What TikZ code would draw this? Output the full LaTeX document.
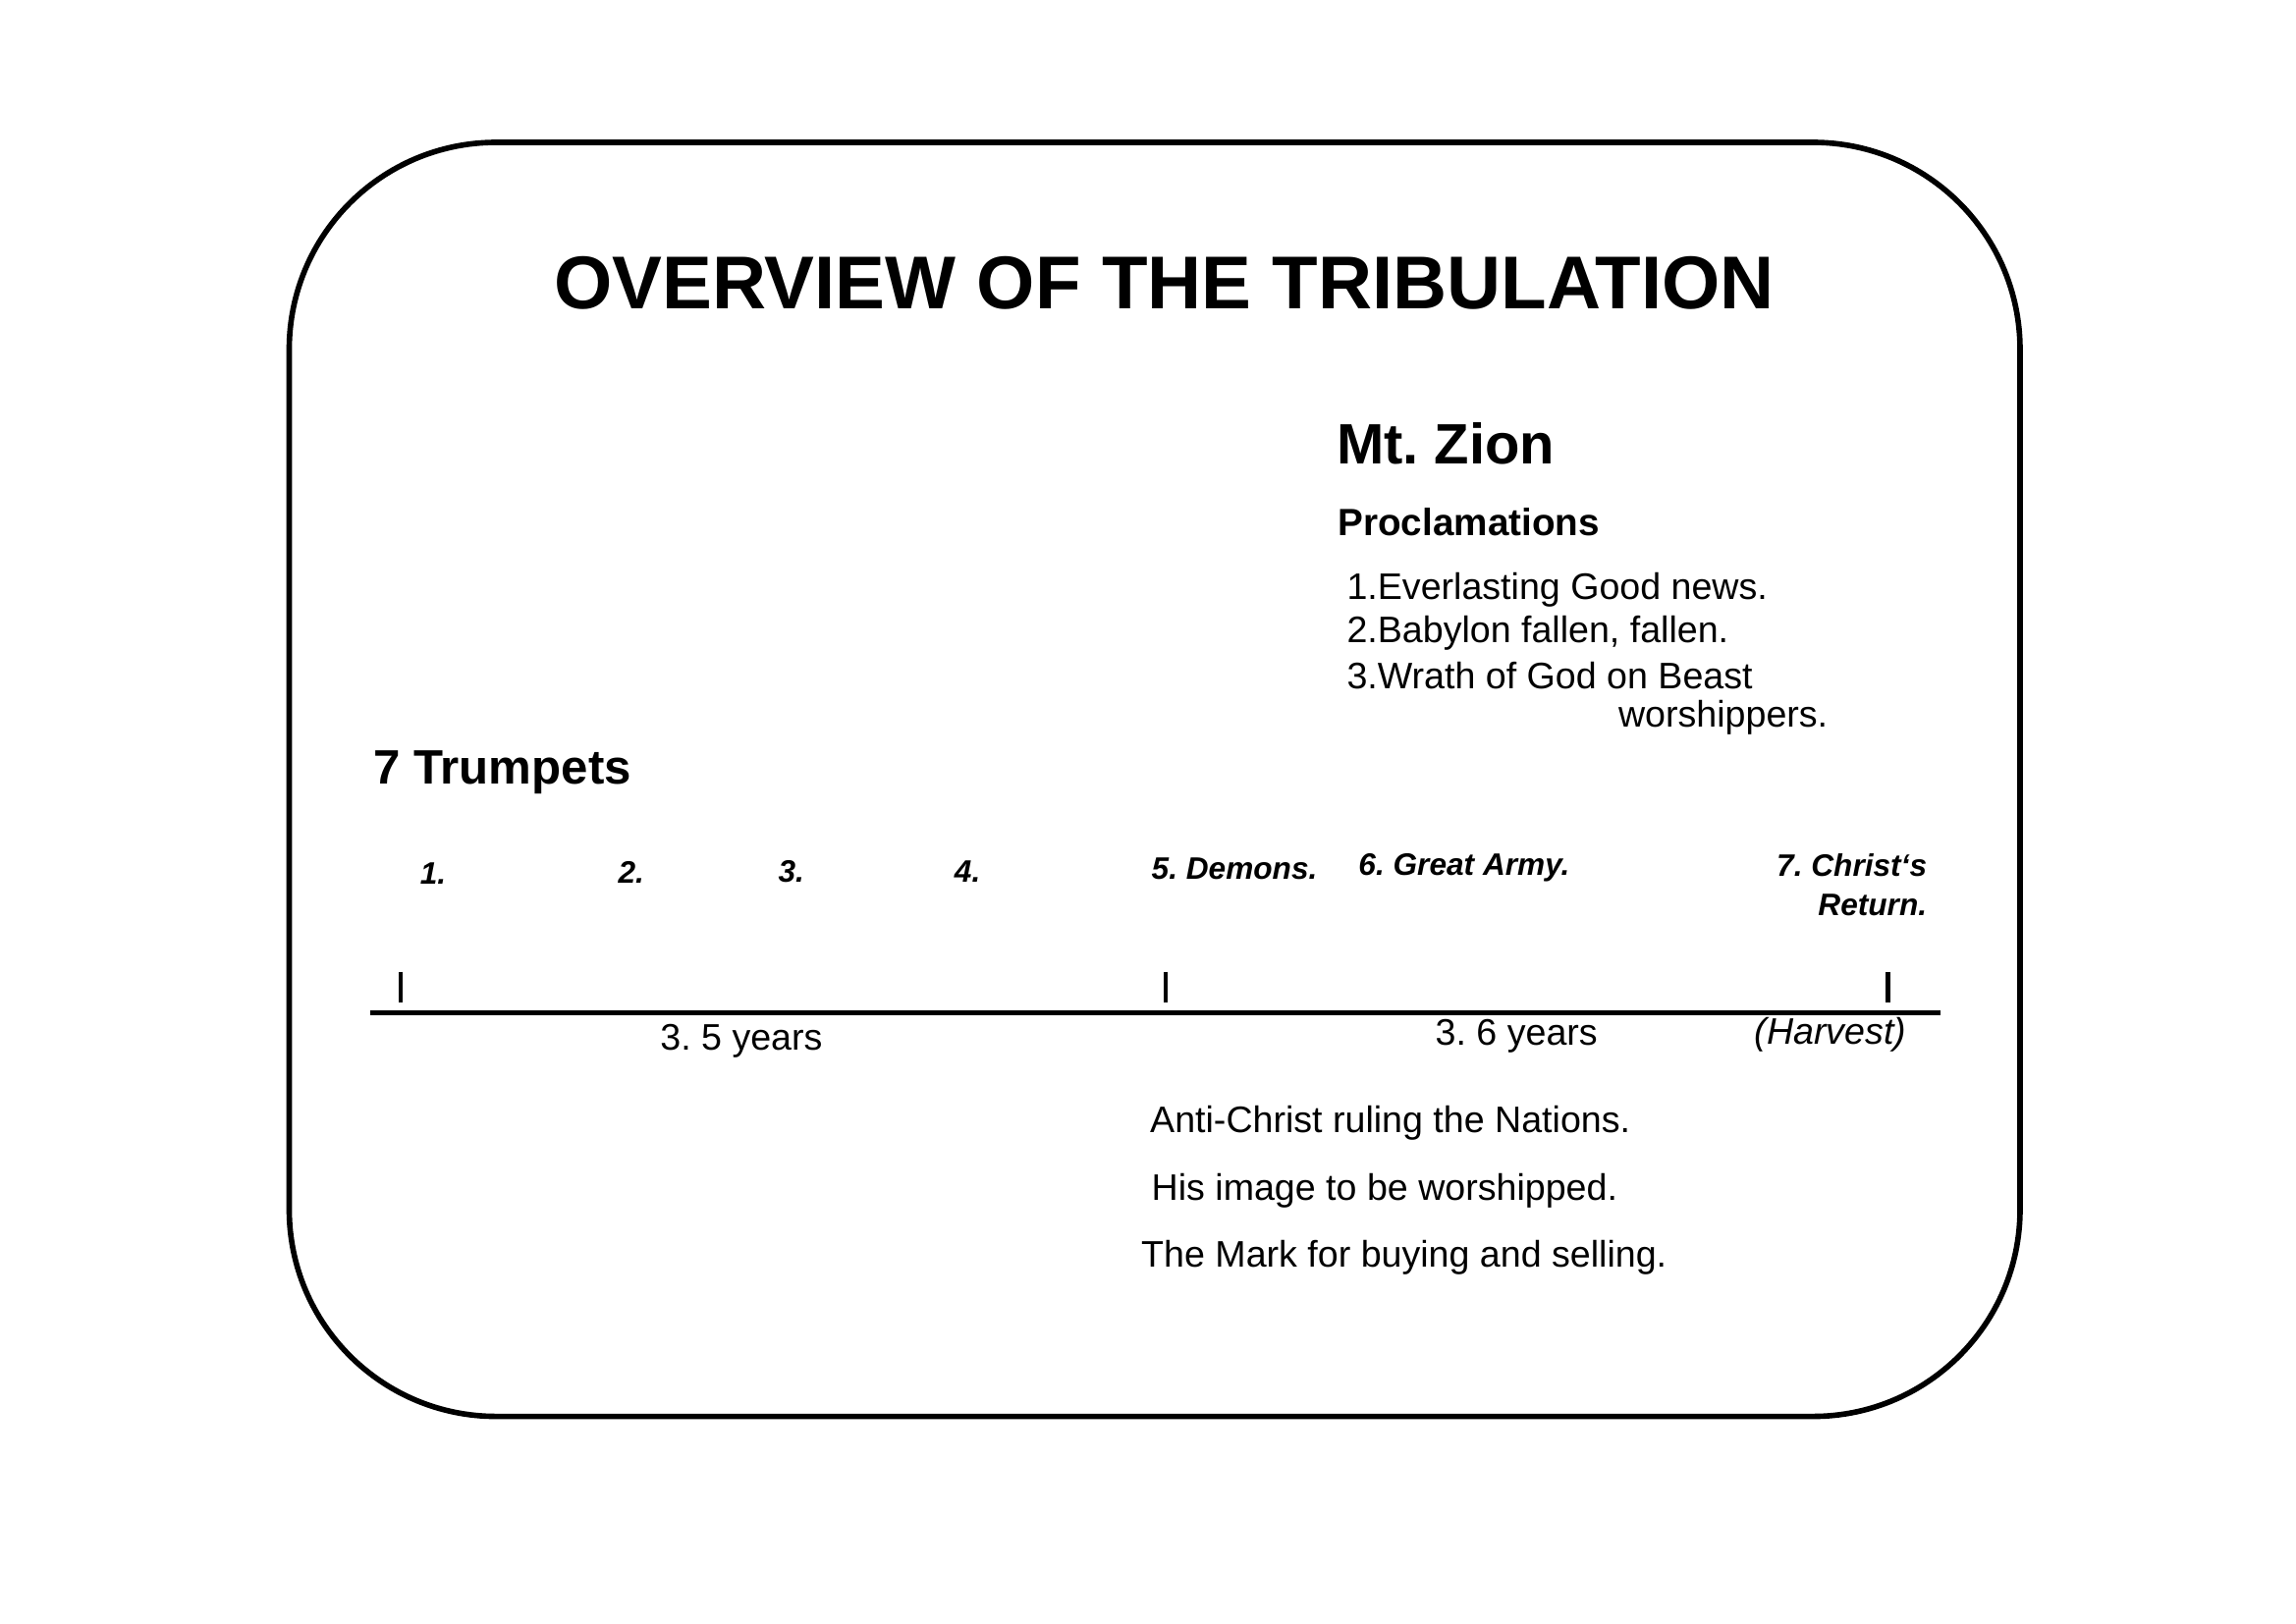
\documentclass[tikz,border=0pt]{standalone}
\usepackage{fontspec}
\setmainfont{Liberation Sans}
\frenchspacing
\begin{document}
\begin{tikzpicture}[x=0.01495cm,y=-0.01495cm,
  title/.style={font=\fontsize{21.7}{26}\selectfont\bfseries},
  head/.style={anchor=west,inner sep=0pt,font=\fontsize{16.5}{20}\selectfont\bfseries},
  sub/.style={anchor=west,inner sep=0pt,font=\fontsize{14}{16}\selectfont\bfseries},
  txt/.style={anchor=west,inner sep=0pt,font=\fontsize{10.7}{13}\selectfont},
  num/.style={inner sep=0pt,font=\fontsize{9}{11.5}\selectfont\bfseries\itshape},
  tick/.style={line width=1.2pt}]
\useasboundingbox (0,0) rectangle (1564,1106);
\draw[line width=1.6pt,rounded corners=60pt] (197,97) rectangle (1376,965);
\node[title] (ttl) at (793,193) {OVERVIEW OF THE TRIBULATION};
% Mt. Zion
\node[head] (zion) at (910,302) {Mt. Zion};
\node[txt,font=\fontsize{11}{14}\selectfont\bfseries] (procl) at (911,356) {Proclamations};
\node[txt] (p1) at (917,402) {1.Everlasting Good news.};
\node[txt] (p2) at (917,431) {2.Babylon fallen, fallen.};
\node[txt] (p3) at (917,460) {3.Wrath of God on Beast};
\node[txt] (p4) at (1102,489) {worshippers.};
% trumpets
\node[sub] (trump) at (254,526) {7 Trumpets};
\node[num] (t1) at (295,595) {1.};
\node[num] (t2) at (430,594) {2.};
\node[num] (t3) at (539,594) {3.};
\node[num] (t4) at (659,594) {4.};
\node[num,anchor=west] (t5) at (784,592) {5. Demons.};
\node[num,anchor=west] (t6) at (925,591) {6. Great Army.};
\node[num,anchor=east,align=right] (t7) at (1313,603) {7. Christ\symbol{96}s\\Return.};
% time line
\coordinate (ls) at (252,690);
\coordinate (le) at (1322,690);
\draw[line width=1.3pt] (ls) -- (le);
\foreach \x in {273,794,1286}
  \draw[tick] (\x,662) -- (\x,683);
\node[txt,anchor=center] (y1) at (505,709) {3. 5 years};
\node[txt,anchor=center] (y2) at (1033,706) {3. 6 years};
\node[txt,anchor=center,font=\fontsize{10.7}{13}\selectfont\itshape] (harv) at (1247,705) {(Harvest)};
% beast
\node[txt] (b1) at (783,765) {Anti-Christ ruling the Nations.};
\node[txt] (b2) at (784,811) {His image to be worshipped.};
\node[txt] (b3) at (777,857) {The Mark for buying and selling.};
\end{tikzpicture}
\end{document}
